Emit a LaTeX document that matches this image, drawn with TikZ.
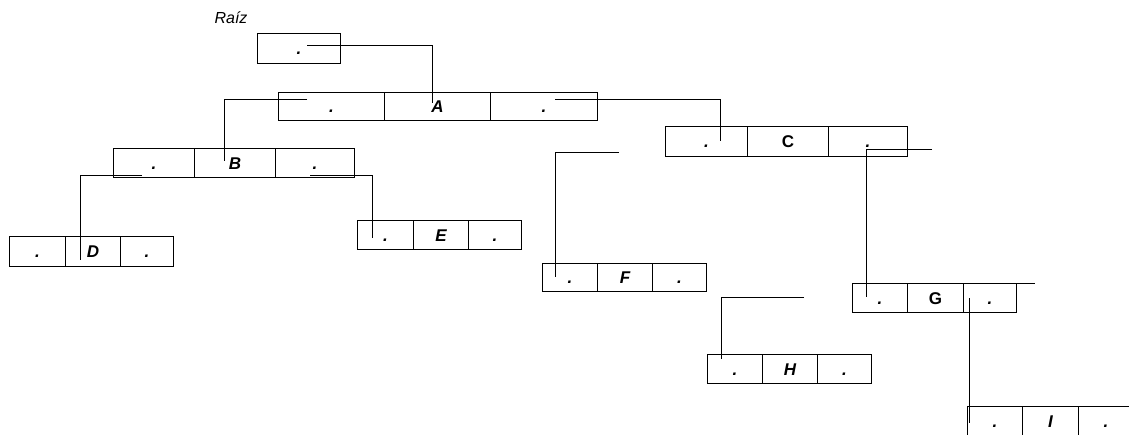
\documentclass[tikz,border=0pt]{standalone}
\usepackage{fontspec}
\setmainfont{Liberation Sans}
\tikzset{
  cell/.style={draw, line width=1pt, anchor=north west, inner sep=0pt,
    text height=12pt, text depth=0pt, font=\fontsize{17}{20}\selectfont\bfseries\itshape},
  link/.style={line width=1pt},
}
\newcommand\myrec[8]{%
  \node[cell, minimum width={(#3-#2)*1pt}, minimum height={(#7-#6)*1pt}] (#1l) at (#2,#6) {.};
  \node[cell, minimum width={(#4-#3)*1pt}, minimum height={(#7-#6)*1pt}] (#1c) at (#3,#6) {#8};
  \node[cell, minimum width={(#5-#4)*1pt}, minimum height={(#7-#6)*1pt}] (#1r) at (#4,#6) {.};
}
\begin{document}
\begin{tikzpicture}[x=1pt,y=-1pt]
\useasboundingbox (0,0) rectangle (1129,434);
\clip (0,0) rectangle (1129,434);
\fill[white] (0,0) rectangle (1129,434);
\node[font=\fontsize{16}{19}\selectfont\itshape] (raiz) at (231,18) {Raíz};
\node[cell, minimum width=83pt, minimum height=30pt] (root) at (257,33) {.};
\myrec{A}{278}{384}{490}{597}{92}{120}{A}
\myrec{B}{113}{194}{275}{354}{148}{177}{B}
\myrec{C}{665}{747}{828}{907}{126}{156}{\upshape C}
\myrec{D}{9}{65}{120}{173}{236}{266}{D}
\myrec{E}{357}{413}{468}{521}{220}{249}{E}
\myrec{F}{542}{597}{652}{706}{263}{291}{F}
\myrec{G}{852}{907}{963}{1016}{283}{312}{\upshape G}
\myrec{H}{707}{762}{817}{871}{354}{383}{H}
\myrec{I}{967}{1022}{1078}{1133}{406}{435}{I}
% connector points
\coordinate (p1) at (307,45);  \coordinate (q1) at (432,103);
\coordinate (p2) at (307,99);  \coordinate (q2) at (224,161);
\coordinate (p3) at (555,99);  \coordinate (q3) at (720,141);
\coordinate (p4) at (142,175); \coordinate (q4) at (80,260);
\coordinate (p5) at (310,175); \coordinate (q5) at (372,238);
\coordinate (p6) at (932,149); \coordinate (q6) at (866,297);
\coordinate (p7) at (619,152); \coordinate (q7) at (555,277);
\coordinate (p8) at (804,297); \coordinate (q8) at (721,359);
\coordinate (p9) at (969,298); \coordinate (q9) at (969,423);
\coordinate (p10) at (1035,283);
\draw[link] (p1) -| (q1);
\draw[link] (p2) -| (q2);
\draw[link] (p3) -| (q3);
\draw[link] (p4) -| (q4);
\draw[link] (p5) -| (q5);
\draw[link] (p6) -| (q6);
\draw[link] (p7) -| (q7);
\draw[link] (p8) -| (q8);
\draw[link] (p9) -- (q9);
\draw[link] (Gr.north east) -- (p10);
\end{tikzpicture}
\end{document}
